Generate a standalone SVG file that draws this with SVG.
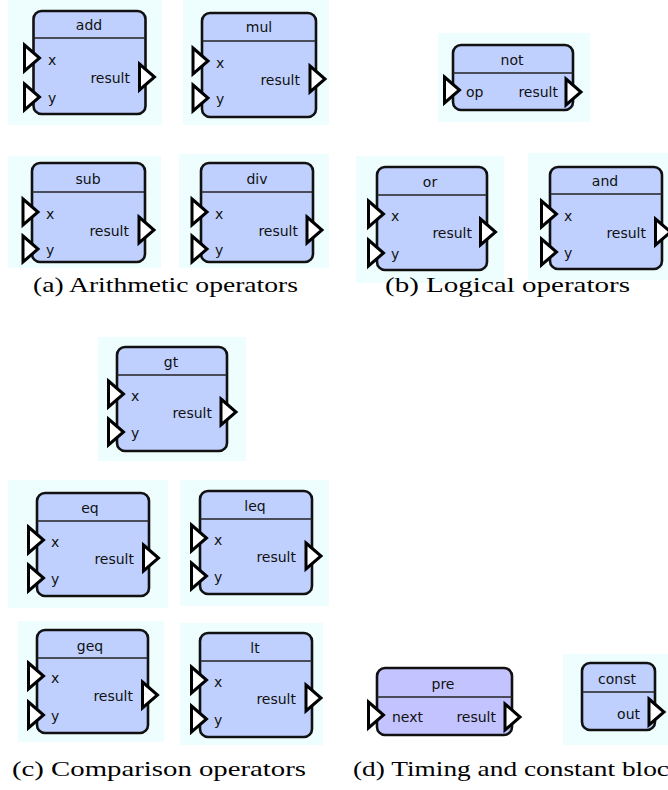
<svg xmlns="http://www.w3.org/2000/svg" xmlns:xlink="http://www.w3.org/1999/xlink" width="668" height="790" viewBox="0 0 668 790">
  <style>
    .panel { fill: #eefefe; }
    .box { fill: #bfd0ff; stroke: #111; stroke-width: 2.6; }
    .box.lav { fill: #c3c3ff; }
    .sep { stroke: #222; stroke-width: 1.4; }
    .pin { fill: #fff; stroke: #000; stroke-width: 3; stroke-linejoin: miter; }
    .t { font-family: "DejaVu Sans", Verdana, sans-serif; font-size: 14px; fill: #111; }
    .title { text-anchor: middle; }
    .out { text-anchor: end; }
    .cap { font-family: "Liberation Serif", "Times New Roman", serif; font-size: 21px; fill: #000; }
  </style>
  <defs>
    <path id="pin" d="M0,-13 L15,0 L0,13 Z"/>
  </defs>

  <rect width="668" height="790" fill="#fff"/>

  <!-- (a) arithmetic -->
  <g id="add">
    <rect class="panel" x="8" y="0" width="154" height="125"/>
    <rect class="box" x="33.5" y="11" width="112" height="103" rx="8"/>
    <line class="sep" x1="33.5" y1="38" x2="145.5" y2="38"/>
    <text class="t title" x="89" y="30">add</text>
    <use href="#pin" class="pin" x="24.5" y="58"/>
    <use href="#pin" class="pin" x="24.5" y="97"/>
    <use href="#pin" class="pin" x="139.5" y="77"/>
    <text class="t" x="48" y="65">x</text>
    <text class="t" x="48" y="103">y</text>
    <text class="t out" x="130" y="83">result</text>
  </g>

  <g id="mul">
    <rect class="panel" x="183" y="0" width="146" height="125"/>
    <rect class="box" x="202" y="13" width="114" height="104" rx="8"/>
    <line class="sep" x1="202" y1="41" x2="316" y2="41"/>
    <text class="t title" x="259" y="32">mul</text>
    <use href="#pin" class="pin" x="193" y="61"/>
    <use href="#pin" class="pin" x="193" y="98"/>
    <use href="#pin" class="pin" x="310" y="79"/>
    <text class="t" x="216" y="68">x</text>
    <text class="t" x="216" y="104">y</text>
    <text class="t out" x="300" y="85">result</text>
  </g>

  <g id="sub">
    <rect class="panel" x="8" y="156" width="153" height="112"/>
    <rect class="box" x="32" y="163" width="113" height="99" rx="8"/>
    <line class="sep" x1="32" y1="192" x2="145" y2="192"/>
    <text class="t title" x="88" y="184">sub</text>
    <use href="#pin" class="pin" x="23" y="212"/>
    <use href="#pin" class="pin" x="23" y="249"/>
    <use href="#pin" class="pin" x="139" y="230"/>
    <text class="t" x="46" y="219">x</text>
    <text class="t" x="46" y="255">y</text>
    <text class="t out" x="129" y="236">result</text>
  </g>

  <g id="div">
    <rect class="panel" x="179" y="154" width="150" height="114"/>
    <rect class="box" x="201" y="163" width="112" height="99" rx="8"/>
    <line class="sep" x1="201" y1="192" x2="313" y2="192"/>
    <text class="t title" x="257" y="184">div</text>
    <use href="#pin" class="pin" x="192" y="212"/>
    <use href="#pin" class="pin" x="192" y="249"/>
    <use href="#pin" class="pin" x="307" y="230"/>
    <text class="t" x="215" y="219">x</text>
    <text class="t" x="215" y="255">y</text>
    <text class="t out" x="298" y="236">result</text>
  </g>

  <!-- (b) logical -->
  <g id="not">
    <rect class="panel" x="438" y="33" width="152" height="89"/>
    <rect class="box" x="453" y="45" width="120" height="65" rx="8"/>
    <line class="sep" x1="453" y1="73" x2="573" y2="73"/>
    <text class="t title" x="512" y="65">not</text>
    <use href="#pin" class="pin" x="444.5" y="90"/>
    <use href="#pin" class="pin" x="566" y="92"/>
    <text class="t" x="466" y="97">op</text>
    <text class="t out" x="558" y="97">result</text>
  </g>

  <g id="or">
    <rect class="panel" x="356" y="156" width="148" height="127"/>
    <rect class="box" x="377" y="167" width="110" height="103" rx="8"/>
    <line class="sep" x1="377" y1="195" x2="487" y2="195"/>
    <text class="t title" x="430" y="187">or</text>
    <use href="#pin" class="pin" x="368.5" y="214"/>
    <use href="#pin" class="pin" x="368.5" y="253"/>
    <use href="#pin" class="pin" x="480.5" y="232"/>
    <text class="t" x="391" y="221">x</text>
    <text class="t" x="391" y="259">y</text>
    <text class="t out" x="472" y="238">result</text>
  </g>

  <g id="and">
    <rect class="panel" x="528" y="153" width="140" height="127"/>
    <rect class="box" x="550" y="167" width="112" height="102" rx="8"/>
    <line class="sep" x1="550" y1="194" x2="662" y2="194"/>
    <text class="t title" x="605" y="186">and</text>
    <use href="#pin" class="pin" x="541.5" y="214"/>
    <use href="#pin" class="pin" x="541.5" y="252"/>
    <use href="#pin" class="pin" x="655.5" y="232"/>
    <text class="t" x="564" y="221">x</text>
    <text class="t" x="564" y="258">y</text>
    <text class="t out" x="646" y="238">result</text>
  </g>

  <!-- (c) comparison -->
  <g id="gt">
    <rect class="panel" x="98" y="337" width="148" height="124"/>
    <rect class="box" x="117" y="347" width="110" height="104" rx="8"/>
    <line class="sep" x1="117" y1="375" x2="227" y2="375"/>
    <text class="t title" x="171" y="367">gt</text>
    <use href="#pin" class="pin" x="108.5" y="394"/>
    <use href="#pin" class="pin" x="108.5" y="432"/>
    <use href="#pin" class="pin" x="221" y="412"/>
    <text class="t" x="131" y="401">x</text>
    <text class="t" x="131" y="438">y</text>
    <text class="t out" x="212" y="418">result</text>
  </g>

  <g id="eq">
    <rect class="panel" x="8" y="480" width="160" height="128"/>
    <rect class="box" x="37" y="493" width="112" height="103" rx="8"/>
    <line class="sep" x1="37" y1="521" x2="149" y2="521"/>
    <text class="t title" x="90" y="513">eq</text>
    <use href="#pin" class="pin" x="28.5" y="540"/>
    <use href="#pin" class="pin" x="28.5" y="578"/>
    <use href="#pin" class="pin" x="143.5" y="558"/>
    <text class="t" x="51" y="547">x</text>
    <text class="t" x="51" y="584">y</text>
    <text class="t out" x="134" y="564">result</text>
  </g>

  <g id="leq">
    <rect class="panel" x="180" y="480" width="149" height="126"/>
    <rect class="box" x="200" y="491" width="112" height="103" rx="8"/>
    <line class="sep" x1="200" y1="519" x2="312" y2="519"/>
    <text class="t title" x="255" y="511">leq</text>
    <use href="#pin" class="pin" x="191.5" y="538"/>
    <use href="#pin" class="pin" x="191.5" y="576"/>
    <use href="#pin" class="pin" x="306" y="556"/>
    <text class="t" x="214" y="545">x</text>
    <text class="t" x="214" y="582">y</text>
    <text class="t out" x="296" y="562">result</text>
  </g>

  <g id="geq">
    <rect class="panel" x="18" y="621" width="146" height="121"/>
    <rect class="box" x="37" y="630" width="111" height="103" rx="8"/>
    <line class="sep" x1="37" y1="658" x2="148" y2="658"/>
    <text class="t title" x="90" y="651">geq</text>
    <use href="#pin" class="pin" x="28.5" y="676"/>
    <use href="#pin" class="pin" x="28.5" y="715"/>
    <use href="#pin" class="pin" x="142.5" y="695"/>
    <text class="t" x="51" y="683">x</text>
    <text class="t" x="51" y="721">y</text>
    <text class="t out" x="133" y="701">result</text>
  </g>

  <g id="lt">
    <rect class="panel" x="180" y="623" width="143" height="122"/>
    <rect class="box" x="200" y="633" width="112" height="104" rx="8"/>
    <line class="sep" x1="200" y1="661" x2="312" y2="661"/>
    <text class="t title" x="255" y="653">lt</text>
    <use href="#pin" class="pin" x="191.5" y="680"/>
    <use href="#pin" class="pin" x="191.5" y="719"/>
    <use href="#pin" class="pin" x="306" y="698"/>
    <text class="t" x="214" y="687">x</text>
    <text class="t" x="214" y="725">y</text>
    <text class="t out" x="296" y="704">result</text>
  </g>

  <!-- (d) timing and constant -->
  <g id="pre">
    <rect class="box lav" x="377" y="668" width="135" height="67" rx="8"/>
    <line class="sep" x1="377" y1="697" x2="512" y2="697"/>
    <text class="t title" x="443" y="689">pre</text>
    <use href="#pin" class="pin" x="368.5" y="715"/>
    <use href="#pin" class="pin" x="505" y="717"/>
    <text class="t" x="392" y="722">next</text>
    <text class="t out" x="496" y="722">result</text>
  </g>

  <g id="const">
    <rect class="panel" x="563" y="654" width="105" height="91"/>
    <rect class="box" x="582" y="663" width="73" height="67" rx="8"/>
    <line class="sep" x1="582" y1="692" x2="655" y2="692"/>
    <text class="t title" x="617" y="684">const</text>
    <use href="#pin" class="pin" x="649" y="712"/>
    <text class="t out" x="640" y="719">out</text>
  </g>

  <!-- captions -->
  <g id="captions">
    <text class="cap" x="33" y="292" textLength="265" lengthAdjust="spacingAndGlyphs">(a) Arithmetic operators</text>
    <text class="cap" x="385" y="292" textLength="245" lengthAdjust="spacingAndGlyphs">(b) Logical operators</text>
    <text class="cap" x="12" y="776" textLength="294" lengthAdjust="spacingAndGlyphs">(c) Comparison operators</text>
    <text class="cap" x="353" y="776" textLength="316" lengthAdjust="spacingAndGlyphs">(d) Timing and constant bloc</text>
  </g>
</svg>
